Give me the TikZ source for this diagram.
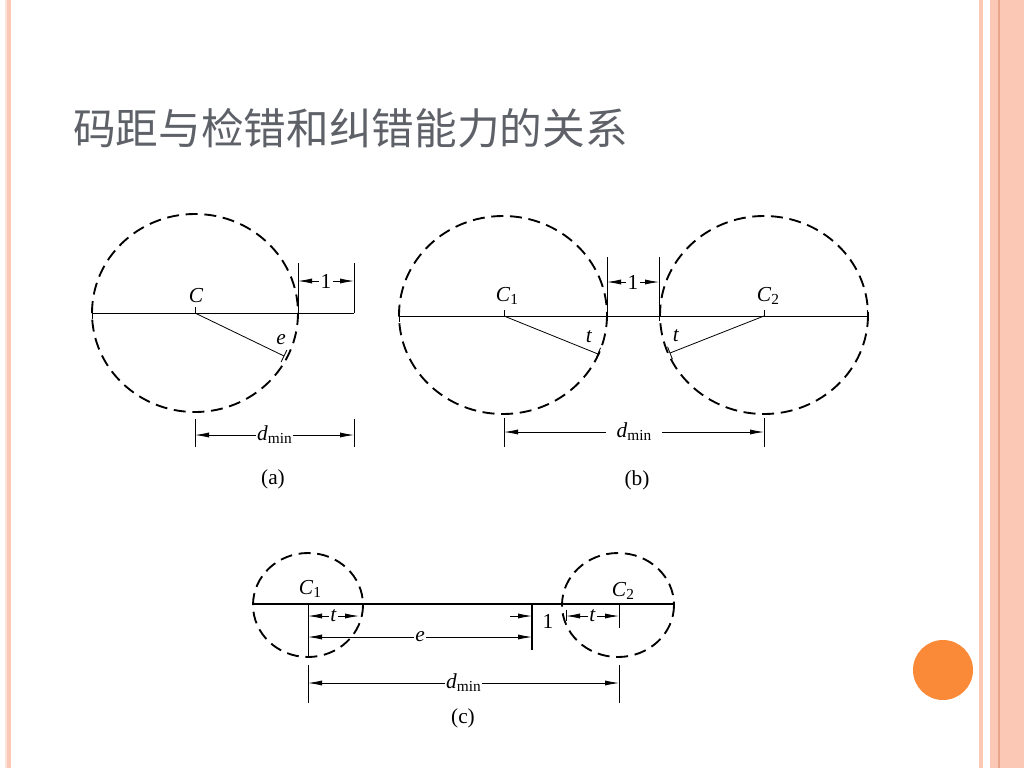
\documentclass[tikz,border=0pt]{standalone}
\usepackage{fontspec}
\setmainfont{Liberation Serif}
\newfontfamily\cjk{Noto Sans CJK SC}
\usepackage{tikz}
\usetikzlibrary{calc}
\usetikzlibrary{arrows.meta}
\definecolor{stripe}{HTML}{FBC8B6}
\definecolor{stripedark}{HTML}{E9A58A}
\definecolor{stripepale}{HTML}{FDE3D8}
\definecolor{dot}{HTML}{FB8A38}
\definecolor{titlegray}{HTML}{5E6268}
\tikzset{>={Latex[length=10.5pt,width=3.8pt]}}
\tikzstyle{dashcirc} = [line width=1.4pt, dash pattern=on 9pt off 5pt]
\tikzstyle{thin line} = [line width=0.6pt]
\tikzstyle{dim} = [<->, line width=0.6pt]
\tikzstyle{lbl} = [font=\fontsize{16}{18}\selectfont, inner sep=1pt]
\tikzstyle{cut} = [lbl, fill=white]
\newcommand{\dmin}{\textit{d}\raisebox{-0.3ex}{\fontsize{11.5}{12}\selectfont min}}
\newcommand{\Csub}[1]{\textit{C}\raisebox{-0.3ex}{\fontsize{11.5}{12}\selectfont #1}}

\begin{document}
\begin{tikzpicture}[x=0.75pt, y=-0.75pt]
\useasboundingbox (0,0) rectangle (1024,768);
% slide frame
\fill[stripepale] (5,0) rectangle (7,768);
\fill[stripe] (7,0) rectangle (11,768);
\fill[stripe] (979,0) rectangle (983,768);
\fill[stripe] (990,0) rectangle (1024,768);
\fill[stripedark] (998,0) rectangle (1000,768);
\fill[dot] (943,670) circle [radius=30];
\node [anchor=west, text=titlegray, font=\cjk\fontsize{32}{36}\selectfont, inner sep=0pt] (title) at (73,128) {码距与检错和纠错能力的关系};

% (a)
\coordinate (Ca) at (195,313);
\coordinate (La) at (92,313);
\coordinate (Ra) at (354,313);
\coordinate (Ea) at (284,356);
\draw [dashcirc] (Ca) ellipse [x radius=103, y radius=99];
\draw [thin line] (La) -- (Ra);
\draw [thin line] ($(La)+(0,-6)$) -- ($(La)+(0,6)$);
\draw [thin line] (Ca) -- ++(0,-6);
\draw [thin line] (Ca) -- (Ea);
\draw [thin line] ($(Ea)!5pt!90:(Ca)$) -- ($(Ea)!5pt!-90:(Ca)$);
\node [lbl] (ca lbl) at (196,296) {\textit{C}};
\node [lbl] (ea lbl) at (281,340) {\textit{e}};
\coordinate (Ga) at (298,263);
\coordinate (Ha) at (354,263);
\draw [thin line] (Ga) -- (298,313);
\draw [thin line] (Ha) -- (Ra);
\draw [dim] (298,281) -- node [cut] (one a) {1} (354,281);
\draw [thin line] (195,419) -- (195,447);
\draw [thin line] (354,419) -- (354,447);
\draw [dim] (195,435) -- node [cut] (dmin a) {\dmin} (354,435);
\node [lbl] (cap a) at (273,479) {(a)};

% (b)
\coordinate (C1b) at (504,316);
\coordinate (C2b) at (764,316);
\coordinate (Lb) at (399,316);
\coordinate (Rb) at (867,316);
\coordinate (E1b) at (598,354);
\coordinate (E2b) at (670,353);
\draw [dashcirc] (503,315) ellipse [x radius=104, y radius=99];
\draw [dashcirc] (764,315) ellipse [x radius=104, y radius=99];
\draw [thin line] (Lb) -- (Rb);
\draw [thin line] ($(Lb)+(0,-6)$) -- ($(Lb)+(0,6)$);
\draw [thin line] ($(Rb)+(0,-6)$) -- ($(Rb)+(0,6)$);
\draw [thin line] (C1b) -- ++(0,-6);
\draw [thin line] (C2b) -- ++(0,-6);
\draw [thin line] (C1b) -- (E1b);
\draw [thin line] (C2b) -- (E2b);
\draw [thin line] ($(E1b)!5pt!90:(C1b)$) -- ($(E1b)!5pt!-90:(C1b)$);
\draw [thin line] ($(E2b)!5pt!90:(C2b)$) -- ($(E2b)!5pt!-90:(C2b)$);
\node [lbl] (c1b lbl) at (507,296) {\Csub{1}};
\node [lbl] (c2b lbl) at (768,296) {\Csub{2}};
\node [lbl] (t1b lbl) at (589,337) {\textit{t}};
\node [lbl] (t2b lbl) at (676,336) {\textit{t}};
\draw [thin line] (607,257) -- (607,316);
\draw [thin line] (659,257) -- (659,321);
\draw [dim] (607,282) -- node [cut] (one b) {1} (659,282);
\draw [thin line] (504,418) -- (504,447);
\draw [thin line] (764,418) -- (764,447);
\draw [dim] (504,432) -- node [cut, inner xsep=8pt] (dmin b) {\dmin} (764,432);
\node [lbl] (cap b) at (637,480) {(b)};

% (c)
\coordinate (C1c) at (308,604);
\coordinate (C2c) at (619,604);
\coordinate (Lc) at (253,604);
\coordinate (Rc) at (673,604);
\coordinate (Kc) at (532,604);
\draw [dashcirc] (308,605) ellipse [x radius=55, y radius=52];
\draw [dashcirc] (618,605) ellipse [x radius=56, y radius=52];
\draw [line width=1.1pt] (Lc) -- (Rc);
\draw [thin line] (C1c) -- (308,657);
\draw [thin line] (C2c) -- (619,628);
\draw [line width=0.9pt] (Kc) -- (532,650);
\draw [thin line] (566,610) -- (566,621);
\node [lbl] (c1c lbl) at (310,589) {\Csub{1}};
\node [lbl] (c2c lbl) at (623,591) {\Csub{2}};
\draw [dim] (308,616) -- node [cut] (t1c) {\textit{t}} (359,616);
\draw [dim] (566,616) -- node [cut] (t2c) {\textit{t}} (619,616);
\draw [dim] (308,637) -- node [cut] (ec) {\textit{e}} (532,637);
\draw [->, line width=0.6pt] (510,616) -- (532,616);
\node [lbl] (one c) at (548,621) {1};
\draw [thin line] (308,665) -- (308,703);
\draw [thin line] (619,665) -- (619,703);
\draw [dim] (308,683) -- node [cut] (dmin c) {\dmin} (619,683);
\node [lbl] (cap c) at (463,718) {(c)};
\end{tikzpicture}
\end{document}
